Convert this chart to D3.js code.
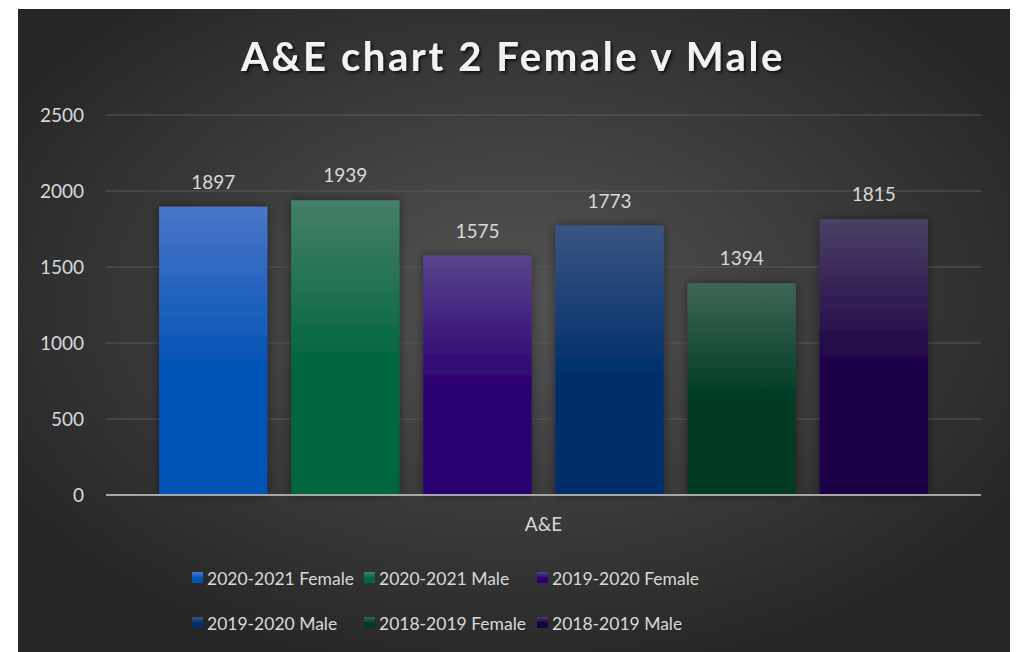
<!DOCTYPE html>
<html>
<head>
<meta charset="utf-8">
<script src="https://cdn.jsdelivr.net/npm/d3@7"></script>
<style>
body { margin: 0; background: #fff; }
text { font-family: Lato, "Open Sans", sans-serif; }
</style>
</head>
<body>
<svg width="1016" height="652"></svg>
<script>
// data
var categories = ["A&E"];
var series = ["2020-2021 Female", "2020-2021 Male", "2019-2020 Female",
              "2019-2020 Male", "2018-2019 Female", "2018-2019 Male"];
var values = [1897, 1939, 1575, 1773, 1394, 1815];
var yTicks = [0, 500, 1000, 1500, 2000, 2500];

// colours: [top, base]
var colors = [["#4a76c9", "#0453b5"], ["#457f68", "#02663f"], ["#58448c", "#2c0071"],
              ["#3b5582", "#002f6c"], ["#3f6656", "#003b24"], ["#4b4064", "#1c0045"]];

var svg = d3.select("svg"),
    width = +svg.attr("width"),
    height = +svg.attr("height");

var margin = {left: 106, right: 1016 - 981, top: 115, bottom: 652 - 495};

var defs = svg.append("defs");

var bg = defs.append("radialGradient")
    .attr("id", "bg")
    .attr("cx", "50%").attr("cy", "45%").attr("r", "60%");
bg.append("stop").attr("offset", "0%").attr("stop-color", "#535353");
bg.append("stop").attr("offset", "100%").attr("stop-color", "#262626");

colors.forEach(function(c, i) {
    var g = defs.append("linearGradient")
        .attr("id", "bar" + i)
        .attr("x1", 0).attr("y1", 0).attr("x2", 0).attr("y2", 1);
    g.append("stop").attr("offset", "0%").attr("stop-color", c[0]);
    g.append("stop").attr("offset", "55%").attr("stop-color", c[1]);
    g.append("stop").attr("offset", "100%").attr("stop-color", c[1]);
});

var shadow = defs.append("filter").attr("id", "shadow")
    .attr("x", "-20%").attr("y", "-20%").attr("width", "140%").attr("height", "140%");
shadow.append("feDropShadow")
    .attr("dx", 0).attr("dy", 0).attr("stdDeviation", 5)
    .attr("flood-color", "#000").attr("flood-opacity", 0.45);

var tshadow = defs.append("filter").attr("id", "tshadow");
tshadow.append("feDropShadow")
    .attr("dx", 2).attr("dy", 2).attr("stdDeviation", 1.5)
    .attr("flood-color", "#000").attr("flood-opacity", 0.7);

// background
svg.append("rect")
    .attr("x", 18).attr("y", 9)
    .attr("width", 1010 - 18).attr("height", height - 9)
    .attr("fill", "url(#bg)");

// title
svg.append("text")
    .attr("x", 513).attr("y", 71)
    .attr("text-anchor", "middle")
    .attr("fill", "#f2f2f2")
    .attr("font-size", 40)
    .attr("font-weight", "bold")
    .attr("letter-spacing", 2.6)
    .attr("filter", "url(#tshadow)")
    .text("A&E chart 2 Female v Male");

var y = d3.scaleLinear()
    .domain([0, 2500])
    .range([height - margin.bottom, margin.top]);

var x0 = d3.scaleBand()
    .domain(categories)
    .range([margin.left, width - margin.right])
    .paddingOuter(0.069);

var x1 = d3.scaleBand()
    .domain(series)
    .range([0, x0.bandwidth()])
    .paddingInner(0.18);

// gridlines
svg.append("g")
    .selectAll("line")
    .data(yTicks.slice(1))
    .enter().append("line")
    .attr("x1", margin.left).attr("x2", width - margin.right)
    .attr("y1", function(d) { return y(d); })
    .attr("y2", function(d) { return y(d); })
    .attr("stroke", "#595959")
    .attr("stroke-width", 1);

// y axis
var yAxis = svg.append("g")
    .attr("transform", "translate(" + (margin.left - 22) + ",0)")
    .call(d3.axisLeft(y).tickValues(yTicks).tickFormat(d3.format("d")).tickSize(0).tickPadding(0));
yAxis.select(".domain").remove();
yAxis.selectAll("text")
    .attr("fill", "#d9d9d9")
    .attr("font-size", 19)
    .style("font-family", "Lato, sans-serif");

// bars
var group = svg.selectAll(".cat")
    .data(categories)
    .enter().append("g")
    .attr("class", "cat")
    .attr("transform", function(d) { return "translate(" + x0(d) + ",0)"; });

group.selectAll("rect")
    .data(values.map(function(v, i) { return {key: series[i], value: v, i: i}; }))
    .enter().append("rect")
    .attr("x", function(d) { return x1(d.key); })
    .attr("y", function(d) { return y(d.value); })
    .attr("width", x1.bandwidth())
    .attr("height", function(d) { return y(0) - y(d.value); })
    .attr("fill", function(d) { return "url(#bar" + d.i + ")"; })
    .attr("filter", "url(#shadow)");

group.selectAll(".label")
    .data(values.map(function(v, i) { return {key: series[i], value: v}; }))
    .enter().append("text")
    .attr("class", "label")
    .attr("x", function(d) { return x1(d.key) + x1.bandwidth() / 2; })
    .attr("y", function(d) { return y(d.value) - 18; })
    .attr("text-anchor", "middle")
    .attr("fill", "#d9d9d9")
    .attr("font-size", 19)
    .text(function(d) { return d.value; });

// zero line
svg.append("line")
    .attr("x1", margin.left).attr("x2", width - margin.right)
    .attr("y1", y(0)).attr("y2", y(0))
    .attr("stroke", "#a6a6a6")
    .attr("stroke-width", 2);

// x axis label
var xAxis = svg.append("g")
    .attr("transform", "translate(0," + (y(0) + 22) + ")")
    .call(d3.axisBottom(x0).tickSize(0).tickPadding(0));
xAxis.select(".domain").remove();
xAxis.selectAll("text")
    .attr("fill", "#d9d9d9")
    .attr("font-size", 19)
    .style("font-family", "Lato, sans-serif");

// legend
var legendPos = [[192, 578], [364, 578], [537, 578], [192, 623], [364, 623], [537, 623]];
var legend = svg.selectAll(".legend")
    .data(series)
    .enter().append("g")
    .attr("class", "legend")
    .attr("transform", function(d, i) { return "translate(" + legendPos[i][0] + "," + legendPos[i][1] + ")"; });

legend.append("rect")
    .attr("x", 0).attr("y", -6)
    .attr("width", 11).attr("height", 11)
    .attr("fill", function(d, i) { return "url(#bar" + i + ")"; });

legend.append("text")
    .attr("x", 15).attr("y", 7)
    .attr("fill", "#d9d9d9")
    .attr("font-size", 17.5)
    .text(function(d) { return d; });
</script>
</body>
</html>
